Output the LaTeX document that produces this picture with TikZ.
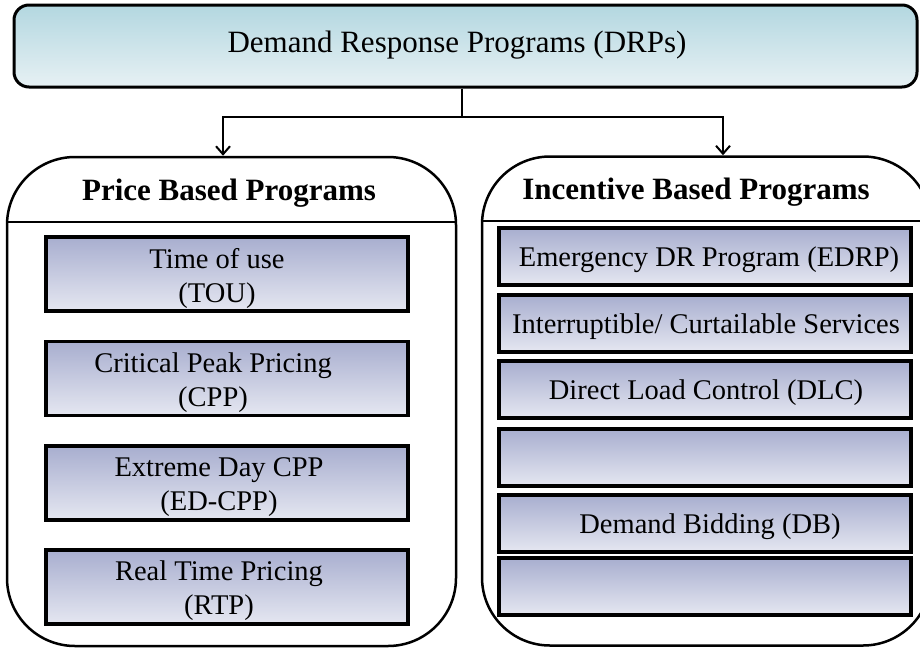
\documentclass[tikz,border=0pt]{standalone}
\usepackage{fontspec}
\setmainfont{Liberation Serif}
\usetikzlibrary{arrows.meta}
\begin{document}
\begin{tikzpicture}[x=1pt,y=-1pt,
  topbox/.style={draw=black, line width=3pt, rounded corners=15pt, top color=topA, bottom color=topB,
    minimum width=903pt, minimum height=82pt, inner sep=0pt},
  panel/.style={draw=black, line width=2.5pt, rounded corners=68pt, fill=white,
    minimum width=449pt, minimum height=489pt, inner sep=0pt},
  ibox/.style={draw=black, line width=3.5pt, top color=boxA, bottom color=boxB, inner sep=0pt},
  lbox/.style={ibox, minimum width=362pt, minimum height=74pt},
  rbox/.style={ibox, minimum width=412pt, minimum height=57pt},
  txt/.style={font=\fontsize{28.5}{34}\selectfont, align=center, inner sep=0pt},
  ttl/.style={font=\fontsize{31}{36}\selectfont\bfseries, inner sep=0pt},
  conn/.style={line width=2pt},
  arr/.style={line width=2pt, -{Straight Barb[length=8pt,width=14pt,line width=2pt]}}
]
\definecolor{topA}{HTML}{B3D7E0}
\definecolor{topB}{HTML}{E7F1F4}
\definecolor{boxA}{HTML}{A8AECF}
\definecolor{boxB}{HTML}{E5E7F1}
\useasboundingbox (0,0) rectangle (920,648);
\clip (0,0) rectangle (920,648);
\fill[white] (0,0) rectangle (920,648);

% top box
\node[topbox] (top) at (465.5,46) {};
\node[inner sep=0pt, font=\fontsize{31}{36}\selectfont] (toptxt) at (457,45) {Demand Response Programs (DRPs)};

% panels
\node[panel] (lp) at (231.5,401.5) {};
\node[panel] (rp) at (706.5,401) {};
\draw[line width=2.5pt] (7,222) -- (456,222);
\draw[line width=2.5pt] (482,221) -- (931,221);
\node[ttl] (lt) at (229,193) {Price Based Programs};
\node[ttl] (rt) at (696,192) {Incentive Based Programs};

% connectors
\coordinate (j) at (462,117);
\draw[conn] (top.south -| j) -- (j);
\draw[arr] (j) -| ([xshift=-8.5pt]lp.north);
\draw[arr] (j) -| ([xshift=16.5pt]rp.north);

% left boxes
\node[lbox] (l1) at (227,274) {};
\node[lbox] (l2) at (227,378.5) {};
\node[lbox] (l3) at (227,483) {};
\node[lbox] (l4) at (227,587) {};
\node[txt] (l1t) at ([xshift=-10pt,yshift=-4pt]l1.center) {Time of use\\(TOU)};
\node[txt] (l2t) at ([xshift=-14pt,yshift=-4pt]l2.center) {Critical Peak Pricing\\(CPP)};
\node[txt] (l3t) at ([xshift=-8pt,yshift=-4pt]l3.center) {Extreme Day CPP\\(ED-CPP)};
\node[txt] (l4t) at ([xshift=-8pt,yshift=-4pt]l4.center) {Real Time Pricing\\(RTP)};

% right boxes
\node[rbox] (r1) at (705,256.5) {};
\node[rbox] (r2) at (705,323.5) {};
\node[rbox] (r3) at (705,389.5) {};
\node[rbox] (r4) at (705,457.5) {};
\node[rbox] (r5) at (705,523.5) {};
\node[rbox] (r6) at (705,586.5) {};
\node[txt] (r1t) at ([xshift=4pt,yshift=-3pt]r1.center) {Emergency DR Program (EDRP)};
\node[txt] (r2t) at ([xshift=1pt,yshift=-3pt]r2.center) {Interruptible/ Curtailable Services};
\node[txt] (r3t) at ([xshift=1pt,yshift=-3pt]r3.center) {Direct Load Control (DLC)};
\node[txt] (r5t) at ([xshift=5pt,yshift=-3pt]r5.center) {Demand Bidding (DB)};
\end{tikzpicture}
\end{document}
